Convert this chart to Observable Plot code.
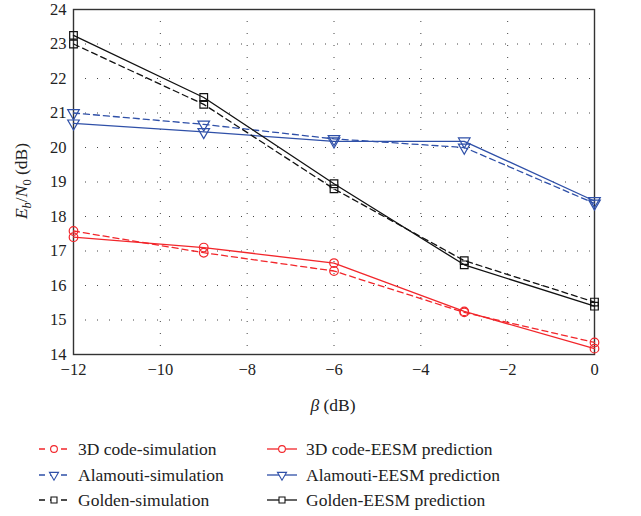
<!DOCTYPE html>
<html>
<head>
<meta charset="utf-8">
<script src="https://cdn.jsdelivr.net/npm/d3@7"></script>
<script src="https://cdn.jsdelivr.net/npm/@observablehq/plot@0.6"></script>
<style>
  body { margin: 0; background: #fff; font-family: "Liberation Serif", "Times New Roman", Times, Tinos, "DejaVu Serif", serif; }
  #wrap { position: relative; width: 641px; height: 516px; }
  .leg { position: absolute; display: flex; align-items: center; font-size: 17.5px; color: #222; white-space: nowrap; }
  .leg svg { margin-right: 8px; }
</style>
</head>
<body>
<div id="wrap"></div>
<script>
const FONT = "Liberation Serif, Times New Roman, Times, Tinos, DejaVu Serif, serif";
const beta = [-12, -9, -6, -3, 0];
const sim3D   = [17.58, 16.95, 16.42, 15.22, 14.35];
const eesm3D  = [17.40, 17.10, 16.65, 15.25, 14.17];
const simAla  = [21.00, 20.67, 20.25, 20.00, 18.38];
const eesmAla = [20.70, 20.45, 20.18, 20.18, 18.45];
const simGol  = [23.00, 21.25, 18.80, 16.72, 15.52];
const eesmGol = [23.25, 21.45, 18.95, 16.60, 15.40];
const xTicks = [-12, -10, -8, -6, -4, -2, 0];
const yTicks = [14, 15, 16, 17, 18, 19, 20, 21, 22, 23, 24];

const RED = "#f2262b", BLUE = "#2f50a8", BLACK = "#111";
const triDown = {
  draw(ctx, size) {
    const h = Math.sqrt(size / (3 * Math.sqrt(3)));
    ctx.moveTo(0, 2 * h);
    ctx.lineTo(-Math.sqrt(3) * h, -h);
    ctx.lineTo(Math.sqrt(3) * h, -h);
    ctx.closePath();
  }
};

const series = [
  {name: "3D code-simulation", vals: sim3D, color: RED, dash: "6,4", symbol: "circle"},
  {name: "3D code-EESM prediction", vals: eesm3D, color: RED, dash: null, symbol: "circle"},
  {name: "Alamouti-simulation", vals: simAla, color: BLUE, dash: "6,4", symbol: triDown},
  {name: "Alamouti-EESM prediction", vals: eesmAla, color: BLUE, dash: null, symbol: triDown},
  {name: "Golden-simulation", vals: simGol, color: BLACK, dash: "6,4", symbol: "square"},
  {name: "Golden-EESM prediction", vals: eesmGol, color: BLACK, dash: null, symbol: "square"}
];

const marks = [
  Plot.ruleX(xTicks, {stroke: "#444", strokeWidth: 1, strokeDasharray: "1,11"}),
  Plot.ruleY(yTicks, {stroke: "#444", strokeWidth: 1, strokeDasharray: "1,11"}),
  Plot.frame({stroke: "#333", strokeWidth: 1.4})
];
for (const s of series) {
  const data = beta.map((b, i) => ({b, v: s.vals[i]}));
  marks.push(Plot.line(data, {x: "b", y: "v", stroke: s.color, strokeWidth: 1.3, strokeDasharray: s.dash || undefined}));
  marks.push(Plot.dot(data, {x: "b", y: "v", stroke: s.color, strokeWidth: 1.2, fill: "none", symbol: s.symbol, r: 4.3}));
}
marks.push(Plot.axisX(xTicks, {tickSize: 0, tickPadding: 9, fontSize: 16.5, label: null, fontFamily: FONT}));
marks.push(Plot.axisY(yTicks, {tickSize: 0, tickPadding: 7, fontSize: 16.5, label: null, fontFamily: FONT}));

const chart = Plot.plot({
  width: 641,
  height: 420,
  marginLeft: 73,
  marginRight: 47,
  marginTop: 9,
  marginBottom: 66,
  x: {domain: [-12, 0]},
  y: {domain: [14, 24]},
  style: {fontFamily: FONT, color: "#222", background: "white", overflow: "visible"},
  marks
});
const wrap = document.getElementById("wrap");
wrap.appendChild(chart);

const svg = d3.select(chart);
// y-axis label
const yl = svg.append("text")
  .attr("transform", "translate(27,181) rotate(-90)")
  .attr("text-anchor", "middle")
  .attr("font-size", 17.5)
  .attr("fill", "#222")
  .attr("font-family", FONT);
yl.append("tspan").attr("font-style", "italic").text("E");
yl.append("tspan").attr("font-style", "italic").attr("font-size", 12.5).attr("dy", 4).text("b");
yl.append("tspan").attr("dy", -4).text("/");
yl.append("tspan").attr("font-style", "italic").text("N");
yl.append("tspan").attr("font-size", 12.5).attr("dy", 4).text("0");
yl.append("tspan").attr("dy", -4).text(" (dB)");
// x-axis label
const xl = svg.append("text")
  .attr("x", 333).attr("y", 411)
  .attr("text-anchor", "middle")
  .attr("font-size", 17.5)
  .attr("fill", "#222")
  .attr("font-family", FONT);
xl.append("tspan").attr("font-style", "italic").text("β");
xl.append("tspan").text(" (dB)");

// legend
const pos = [[38, 449], [266, 449], [38, 475], [266, 475], [38, 500], [266, 500]];
series.forEach((s, i) => {
  const d = document.createElement("div");
  d.className = "leg";
  d.style.left = pos[i][0] + "px";
  d.style.top = (pos[i][1] - 11) + "px";
  d.style.height = "22px";
  const ls = d3.create("svg").attr("width", 32).attr("height", 14);
  ls.append("line").attr("x1", 1).attr("x2", 31).attr("y1", 7).attr("y2", 7)
    .attr("stroke", s.color).attr("stroke-width", 1.3)
    .attr("stroke-dasharray", s.dash ? "6,5" : null);
  ls.append("path").attr("d", d3.symbol(s.symbol === "circle" ? d3.symbolCircle : s.symbol === "square" ? d3.symbolSquare : triDown, 36)())
    .attr("transform", "translate(16,7)").attr("fill", "white").attr("stroke", s.color).attr("stroke-width", 1.1);
  d.appendChild(ls.node());
  const t = document.createElement("span");
  t.textContent = s.name;
  d.appendChild(t);
  wrap.appendChild(d);
});
</script>
</body>
</html>
